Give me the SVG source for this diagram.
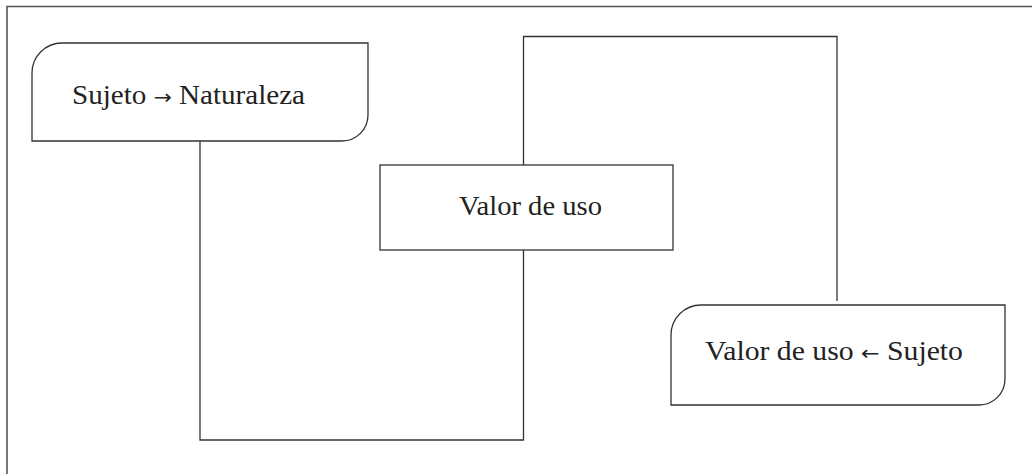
<svg xmlns="http://www.w3.org/2000/svg" width="1032" height="474" viewBox="0 0 1032 474">
<style>
.node{fill:#fff;stroke:#333;stroke-width:1.3}
.conn{fill:none;stroke:#333;stroke-width:1.3}
.frame{fill:none;stroke:#555;stroke-width:1.6}
.lbl{font-family:"Liberation Serif","Times New Roman",serif;font-size:27px;fill:#222}
.arr{font-family:"DejaVu Sans",sans-serif;font-size:20px}
</style>
<rect width="1032" height="474" fill="#fff"/>
<path class="frame" d="M7,474 V6.5 H1032"/>
<g id="connectors">
<path class="conn" d="M200,141 V440 H523.5 V250"/>
<path class="conn" d="M523.5,165 V36.5 H837 V301"/>
</g>
<g id="node-sujeto-naturaleza">
<path class="node" d="M32,141 V73 A30,30 0 0 1 62,43 H368 V115 A26,26 0 0 1 342,141 Z"/>
<text class="lbl" x="72" y="104" textLength="233" lengthAdjust="spacingAndGlyphs">Sujeto <tspan class="arr">→</tspan> Naturaleza</text>
</g>
<g id="node-valor-de-uso">
<rect class="node" x="380" y="165" width="293" height="85"/>
<text class="lbl" x="459" y="215" textLength="143" lengthAdjust="spacingAndGlyphs">Valor de uso</text>
</g>
<g id="node-valor-sujeto">
<path class="node" d="M671,405 V335 A30,30 0 0 1 701,305 H1005 V379 A26,26 0 0 1 979,405 Z"/>
<text class="lbl" x="705" y="360" textLength="258" lengthAdjust="spacingAndGlyphs">Valor de uso <tspan class="arr">←</tspan> Sujeto</text>
</g>
</svg>
